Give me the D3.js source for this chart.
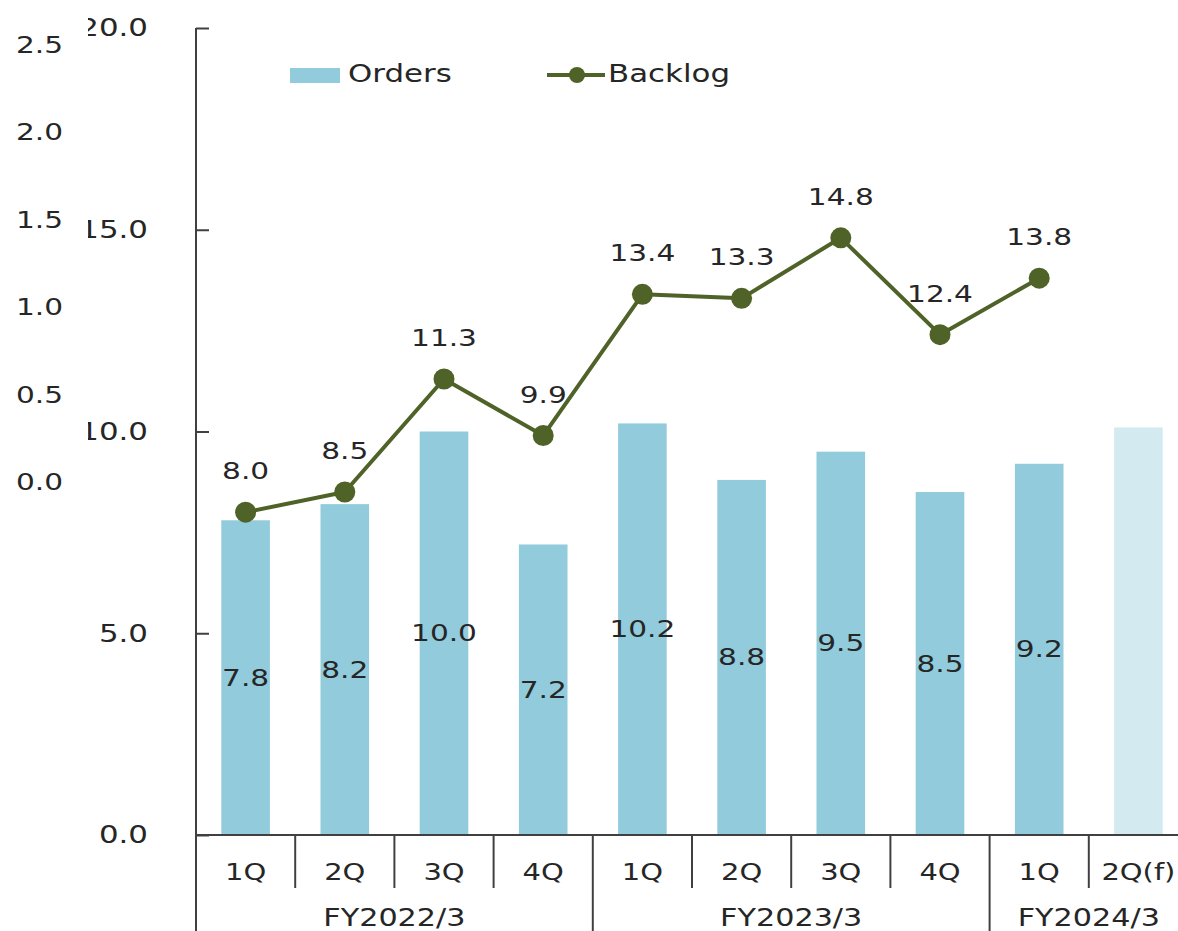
<!DOCTYPE html>
<html>
<head>
<meta charset="utf-8">
<script src="https://cdn.jsdelivr.net/npm/d3@7"></script>
<style>
  html, body { margin: 0; padding: 0; background: #fff; }
  svg { display: block; font-family: "DejaVu Sans", Verdana, sans-serif; }
</style>
</head>
<body>
<svg id="chart" width="1178" height="931"></svg>
<script>
// data
const quarters = ['1Q', '2Q', '3Q', '4Q', '1Q', '2Q', '3Q', '4Q', '1Q', '2Q(f)'];
const fiscalYears = ['FY2022/3', 'FY2023/3', 'FY2024/3'];
const fyOfQuarter = [0, 0, 0, 0, 1, 1, 1, 1, 2, 2];
const orders = [7.8, 8.2, 10.0, 7.2, 10.2, 8.8, 9.5, 8.5, 9.2, 10.1];
const ordersLabeled = [true, true, true, true, true, true, true, true, true, false];
const backlog = [8.0, 8.5, 11.3, 9.9, 13.4, 13.3, 14.8, 12.4, 13.8];
const leftTicks = [0, 5, 10, 15, 20];
const ghostTicks = [0, 0.5, 1.0, 1.5, 2.0, 2.5];

const barColor = '#92cbdc';
const forecastColor = '#d3eaf1';
const lineColor = '#4f6228';
const textColor = '#262626';
const axisColor = '#404040';
const sx = 1.26; // text in the source is stretched horizontally

const svg = d3.select('#chart');

const keys = quarters.map((q, i) => i);
const x = d3.scaleBand()
    .domain(keys)
    .range([196, 1188])
    .paddingInner(0.51)
    .paddingOuter(0.255);

const y = d3.scaleLinear().domain([0, 20]).range([835, 28]);
const y2 = d3.scaleLinear().domain([0, 2.5]).range([482, 45]);

const step = x.step();
const bandStart = i => x.range()[0] + i * step;
const cx = i => x(i) + x.bandwidth() / 2;

function label(g, px, py, txt, size, anchor) {
  return g.append('text')
    .attr('transform', `translate(${px},${py}) scale(${sx},1)`)
    .attr('text-anchor', anchor || 'middle')
    .attr('font-size', size)
    .attr('fill', textColor)
    .text(txt);
}

// ghost secondary labels on the far left
const ghost = svg.append('g')
    .attr('transform', 'translate(63,0)')
    .call(d3.axisLeft(y2).tickValues(ghostTicks).tickSize(0).tickPadding(0).tickFormat(d3.format('.1f')));
ghost.select('.domain').remove();
ghost.selectAll('text')
    .attr('x', 0)
    .attr('transform', `scale(${sx},1)`)
    .attr('font-size', 23.5)
    .attr('font-family', '"DejaVu Sans", Verdana, sans-serif')
    .attr('fill', textColor);

// left axis (labels clipped at the left edge)
svg.append('clipPath').attr('id', 'leftClip')
  .append('rect').attr('x', -108).attr('y', -30).attr('width', 1200).attr('height', 1000);

const yAxis = svg.append('g')
    .attr('transform', 'translate(196,0)')
    .attr('clip-path', 'url(#leftClip)')
    .call(d3.axisLeft(y).tickValues(leftTicks).tickSizeInner(-13).tickSizeOuter(0).tickPadding(48).tickFormat(d3.format('.1f')));
yAxis.select('.domain').remove();
yAxis.selectAll('.tick line').attr('stroke', axisColor).attr('stroke-width', 2);
yAxis.selectAll('.tick text')
    .attr('x', 0)
    .attr('transform', `translate(-48,0) scale(${sx},1)`)
    .attr('font-size', 24.5)
    .attr('font-family', '"DejaVu Sans", Verdana, sans-serif')
    .attr('fill', textColor);

// bars
svg.append('g').selectAll('rect')
  .data(orders)
  .join('rect')
    .attr('x', (d, i) => x(i))
    .attr('y', d => y(d))
    .attr('width', x.bandwidth())
    .attr('height', d => y(0) - y(d))
    .attr('fill', (d, i) => ordersLabeled[i] ? barColor : forecastColor);

// axis lines
svg.append('line')
    .attr('x1', 196).attr('x2', 196).attr('y1', 28).attr('y2', 931)
    .attr('stroke', axisColor).attr('stroke-width', 2);
svg.append('line')
    .attr('x1', 196).attr('x2', 1178).attr('y1', y(0)).attr('y2', y(0))
    .attr('stroke', axisColor).attr('stroke-width', 2);

// category dividers
const dividers = svg.append('g');
keys.slice(1).forEach(i => {
  const isGroup = fyOfQuarter[i] !== fyOfQuarter[i - 1];
  dividers.append('line')
    .attr('x1', bandStart(i)).attr('x2', bandStart(i))
    .attr('y1', y(0)).attr('y2', isGroup ? 931 : 888)
    .attr('stroke', axisColor).attr('stroke-width', 2);
});

// category labels
const cats = svg.append('g');
quarters.forEach((q, i) => label(cats, bandStart(i) + step / 2, 880, q, 23));
fiscalYears.forEach((fy, k) => {
  const idx = keys.filter(i => fyOfQuarter[i] === k);
  const x0 = bandStart(idx[0]);
  const x1 = bandStart(idx[idx.length - 1]) + step;
  label(cats, (x0 + x1) / 2, 926, fy, 24);
});

// orders labels
const ol = svg.append('g');
orders.forEach((d, i) => {
  if (!ordersLabeled[i]) return;
  label(ol, cx(i), (y(d) + y(0)) / 2 + 8, d.toFixed(1), 23.5);
});

// backlog line
const line = d3.line()
    .x((d, i) => cx(i))
    .y(d => y(d));

svg.append('path')
    .datum(backlog)
    .attr('d', line)
    .attr('fill', 'none')
    .attr('stroke', lineColor)
    .attr('stroke-linejoin', 'round')
    .attr('stroke-width', 4);

svg.append('g').selectAll('circle')
  .data(backlog)
  .join('circle')
    .attr('cx', (d, i) => cx(i))
    .attr('cy', d => y(d))
    .attr('r', 10.5)
    .attr('fill', lineColor);

const bl = svg.append('g');
backlog.forEach((d, i) => label(bl, cx(i), y(d) - 33, d.toFixed(1), 23.5));

// legend
const legend = svg.append('g');
legend.append('rect')
    .attr('x', 290).attr('y', 68).attr('width', 50).attr('height', 15)
    .attr('fill', barColor);
label(legend, 348, 82, 'Orders', 24.5, 'start');
legend.append('line')
    .attr('x1', 547).attr('x2', 605).attr('y1', 75).attr('y2', 75)
    .attr('stroke', lineColor).attr('stroke-width', 4);
legend.append('circle')
    .attr('cx', 577).attr('cy', 75).attr('r', 8)
    .attr('fill', lineColor);
label(legend, 608, 82, 'Backlog', 24.5, 'start');
</script>
</body>
</html>
